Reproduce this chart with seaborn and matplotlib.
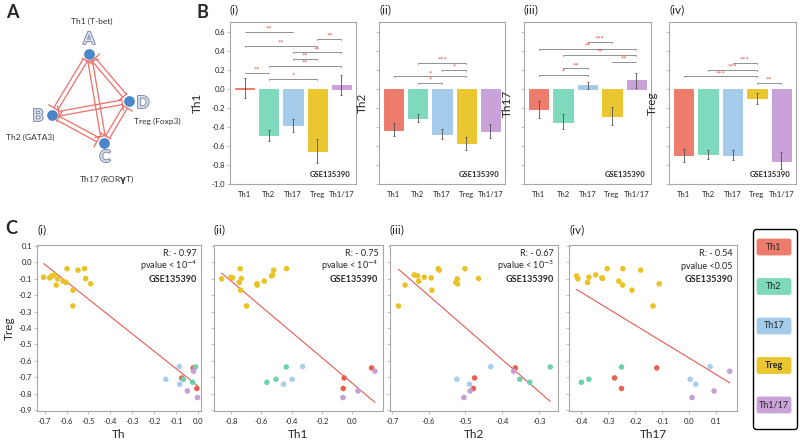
import numpy as np
import pandas as pd
import matplotlib
matplotlib.use("Agg")
import matplotlib.pyplot as plt
import seaborn as sns
from matplotlib.patches import FancyBboxPatch
import matplotlib.patheffects as pe

sns.set_theme(style="white")
plt.rcParams["font.family"] = ["Lato", "DejaVu Sans"]
plt.rcParams["axes.unicode_minus"] = False

# ---------------- data ----------------
cats = ["Th1", "Th2", "Th17", "Treg", "Th1/17"]
cat_colors = ["#EE7C6C", "#7FD9BD", "#A5CBEA", "#EAC631", "#C8A2D8"]
pt_colors = ["#E8624F", "#6ED1AE", "#A9CDEB", "#E9C325", "#C69FD6"]

b_names = ["Th1", "Th2", "Th17", "Treg"]
b_titles = ["(i)", "(ii)", "(iii)", "(iv)"]
b_th1_mean = [0.005, -0.49, -0.385, -0.65, 0.04]
b_th1_err = [0.105, 0.06, 0.065, 0.125, 0.105]
b_th2_mean = [-0.43, -0.31, -0.475, -0.575, -0.445]
b_th2_err = [0.065, 0.04, 0.053, 0.07, 0.072]
b_th17_mean = [-0.215, -0.345, 0.035, -0.29, 0.087]
b_th17_err = [0.088, 0.082, 0.037, 0.095, 0.075]
b_treg_mean = [-0.70, -0.69, -0.695, -0.10, -0.755]
b_treg_err = [0.065, 0.05, 0.055, 0.06, 0.09]
b_yticks = [-1.0, -0.8, -0.6, -0.4, -0.2, 0.0, 0.2, 0.4, 0.6]

# significance brackets: (from, to, height, label)
sig_th1 = [(0, 2, 0.60, "**"), (3, 4, 0.52, "**"), (0, 3, 0.45, "**"), (2, 4, 0.38, "**"),
           (2, 3, 0.31, "**"), (1, 4, 0.24, "**"), (0, 1, 0.17, "**"), (1, 3, 0.10, "*")]
sig_th2 = [(1, 3, 0.274, "***"), (2, 3, 0.20, "*"), (0, 3, 0.13, "*"), (1, 2, 0.06, "*")]
sig_th17 = [(2, 3, 0.49, "***"), (0, 4, 0.42, "**"), (1, 4, 0.355, "**"), (3, 4, 0.285, "**"),
            (1, 2, 0.215, "**"), (0, 2, 0.145, "*")]
sig_treg = [(2, 3, 0.27, "***"), (1, 3, 0.20, "***"), (0, 3, 0.13, "***"), (3, 4, 0.06, "**")]

# scatter data (Treg score vs. Th scores), per group
treg_y = [-0.091, -0.095, -0.083, -0.077, -0.101, -0.139, -0.115, -0.123, -0.039,
          -0.170, -0.266, -0.048, -0.039, -0.099, -0.131]
treg_x_th = [-0.705, -0.677, -0.667, -0.656, -0.641, -0.647, -0.616, -0.602, -0.598,
             -0.571, -0.571, -0.548, -0.518, -0.513, -0.490]
treg_x_th1 = [-0.800, -0.790, -0.532, -0.525, -0.862, -0.627, -0.580, -0.745, -0.739,
              -0.736, -0.697, -0.518, -0.433, -0.732, -0.629]
treg_x_th2 = [-0.612, -0.593, -0.630, -0.639, -0.522, -0.664, -0.627, -0.526, -0.574,
              -0.591, -0.682, -0.571, -0.501, -0.464, -0.521]
treg_x_th17 = [-0.372, -0.324, -0.418, -0.347, -0.413, -0.247, -0.261, -0.377, -0.304,
               -0.212, -0.134, -0.180, -0.246, -0.321, -0.111]

th1_y = [-0.704, -0.643, -0.768]
th1_x_th = [-0.074, -0.022, -0.005]
th1_x_th1 = [-0.053, 0.128, -0.059]
th1_x_th2 = [-0.475, -0.364, -0.478]
th1_x_th17 = [-0.277, -0.120, -0.251]

th2_y = [-0.712, -0.637, -0.730]
th2_x_th = [-0.067, -0.011, -0.025]
th2_x_th1 = [-0.503, -0.435, -0.563]
th2_x_th2 = [-0.352, -0.269, -0.325]
th2_x_th17 = [-0.372, -0.251, -0.400]

th17_y = [-0.712, -0.635, -0.742]
th17_x_th = [-0.147, -0.085, -0.083]
th17_x_th1 = [-0.396, -0.327, -0.453]
th17_x_th2 = [-0.523, -0.431, -0.489]
th17_x_th17 = [0.004, 0.078, 0.025]

th117_y = [-0.663, -0.783, -0.823]
th117_x_th = [-0.020, -0.048, -0.002]
th117_x_th1 = [0.150, 0.038, -0.061]
th117_x_th2 = [-0.369, -0.487, -0.504]
th117_x_th17 = [0.151, 0.093, 0.011]

c_xcols = ["Th", "Th1", "Th2", "Th17"]
c_titles = ["(i)", "(ii)", "(iii)", "(iv)"]
c_R = ["R: - 0.97", "R: - 0.75", "R: - 0.67", "R: - 0.54"]
c_p = ["pvalue < 10$^{-4}$", "pvalue < 10$^{-4}$", "pvalue < 10$^{-3}$", "pvalue <0.05"]
c_xticks = [[-0.7, -0.6, -0.5, -0.4, -0.3, -0.2, -0.1, 0.0],
            [-0.8, -0.6, -0.4, -0.2, 0.0],
            [-0.7, -0.6, -0.5, -0.4, -0.3],
            [-0.4, -0.3, -0.2, -0.1, 0.0, 0.1]]
c_xlims = [(-0.735, 0.014), (-0.912, 0.20), (-0.705, -0.248), (-0.446, 0.178)]
c_yticks = [-0.9, -0.8, -0.7, -0.6, -0.5, -0.4, -0.3, -0.2, -0.1, 0.0, 0.1]

# network diagram (panel A)
node_names = ["A", "B", "C", "D"]
node_x = [89, 52, 104, 129]
node_y = [54, 115, 143, 101]
node_labels = ["Th1 (T-bet)", "Th2 (GATA3)", "Th17 (ROR$\\mathbf{\\gamma}$T)", "Treg (Foxp3)"]
edges = [(0, 1), (0, 2), (0, 3), (1, 2), (1, 3), (2, 3)]

# ---------------- figure ----------------
W, H = 800, 441
fig = plt.figure(figsize=(W / 100, H / 100), dpi=100)


def fr(x0, y0, x1, y1):
    return [x0 / W, 1 - y1 / H, (x1 - x0) / W, (y1 - y0) / H]


GRAY = "#a6a6a6"
STAR = "#E8453C"

# ---- panel A ----
axA = fig.add_axes(fr(0, 0, 190, 200))
axA.set_xlim(0, 190)
axA.set_ylim(200, 0)
axA.axis("off")
for (i, j) in edges:
    p = np.array([node_x[i], node_y[i]], float)
    q = np.array([node_x[j], node_y[j]], float)
    u = (q - p) / np.linalg.norm(q - p)
    n = np.array([-u[1], u[0]])
    for sgn, (s, e) in [(1, (p, q)), (-1, (q, p))]:
        uu = (e - s) / np.linalg.norm(e - s)
        a0 = s + uu * 7 + sgn * n * 2.3
        a1 = e - uu * 7 + sgn * n * 2.3
        axA.annotate("", xy=a1, xytext=a0,
                     arrowprops=dict(arrowstyle="-[, widthB=0.35, lengthB=0",
                                     color="#EE6F6A", lw=0.9, shrinkA=0, shrinkB=0))
axA.scatter(node_x, node_y, s=60, color="#4A86C8", zorder=5, linewidths=0)
letter_off = [(0, -15), (-14, 1), (1, 14), (14, 2)]
label_pos = [(92, 21), (30, 137), (107, 180), (157, 121)]
for k in range(4):
    axA.text(node_x[k] + letter_off[k][0], node_y[k] + letter_off[k][1], node_names[k],
             ha="center", va="center", fontsize=12, fontweight="bold", color="#D6DCE9",
             path_effects=[pe.withStroke(linewidth=1.2, foreground="#6F7FA0")])
    axA.text(label_pos[k][0], label_pos[k][1], node_labels[k], ha="center", va="center",
             fontsize=6, color="#333333")

fig.text(6 / W, 1 - 13 / H, "A", fontsize=13, fontweight="bold", va="center")
fig.text(196 / W, 1 - 13 / H, "B", fontsize=13, fontweight="bold", va="center")
fig.text(5 / W, 1 - 229 / H, "C", fontsize=13, fontweight="bold", va="center")

# ---- panel B ----
b_boxes = [(230, 22, 356, 184), (379, 22, 505, 184), (524, 22, 651, 184), (669, 22, 796, 184)]
b_means = [b_th1_mean, b_th2_mean, b_th17_mean, b_treg_mean]
b_errs = [b_th1_err, b_th2_err, b_th17_err, b_treg_err]
b_sigs = [sig_th1, sig_th2, sig_th17, sig_treg]
pal = dict(zip(cats, cat_colors))
for k in range(4):
    ax = fig.add_axes(fr(*b_boxes[k]))
    df = pd.DataFrame({"cell": cats, "score": b_means[k]})
    sns.barplot(data=df, x="cell", y="score", hue="cell", palette=pal, width=0.8,
                errorbar=None, legend=False, ax=ax, saturation=1)
    for patch, c in zip(ax.patches, cat_colors):
        patch.set_edgecolor(c)
        patch.set_linewidth(0.7)
    ax.errorbar(range(5), b_means[k], yerr=b_errs[k], fmt="none", ecolor="#505050",
                elinewidth=0.6, capsize=1.0, capthick=0.6, zorder=4)
    for (i, j, y, lab) in b_sigs[k]:
        ax.plot([i, i, j, j], [y - 0.01, y, y, y - 0.01], color="#808080", lw=0.6)
        ax.text((i + j) / 2, y + 0.002, lab, ha="center", va="baseline", color=STAR,
                fontsize=5.5)
    ax.set_xlim(-0.6, 4.6)
    ax.set_ylim(-1.0, 0.7)
    ax.set_yticks(b_yticks)
    if k == 0:
        ax.set_yticklabels([f"{v:.1f}" for v in b_yticks])
    else:
        ax.set_yticklabels([])
    ax.set_xlabel("")
    ax.set_ylabel(b_names[k], fontsize=8.5)
    ax.yaxis.set_label_coords(-0.215 if k == 0 else -0.085, 0.5)
    ax.tick_params(axis="y", length=2, width=0.5, color=GRAY, labelsize=5.5, pad=1.5, left=True)
    ax.tick_params(axis="x", length=0, labelsize=5.5, pad=5)
    for s in ax.spines.values():
        s.set_color(GRAY)
        s.set_linewidth(0.8)
    ax.text(0.96, 0.035, "GSE135390", transform=ax.transAxes, ha="right", va="bottom",
            fontsize=5.5, fontweight="bold")
    ax.text(0.0, 1.04, b_titles[k], transform=ax.transAxes, ha="left", va="bottom", fontsize=8.5)

# ---- panel C ----
groups = ["Th1", "Th2", "Th17", "Treg", "Th1/17"]
g_y = [th1_y, th2_y, th17_y, treg_y, th117_y]
g_x = [[th1_x_th, th1_x_th1, th1_x_th2, th1_x_th17],
       [th2_x_th, th2_x_th1, th2_x_th2, th2_x_th17],
       [th17_x_th, th17_x_th1, th17_x_th2, th17_x_th17],
       [treg_x_th, treg_x_th1, treg_x_th2, treg_x_th17],
       [th117_x_th, th117_x_th1, th117_x_th2, th117_x_th17]]
rows = []
for g, ys, xs in zip(groups, g_y, g_x):
    for n in range(len(ys)):
        rows.append({"group": g, "Treg": ys[n], "Th": xs[0][n], "Th1": xs[1][n],
                     "Th2": xs[2][n], "Th17": xs[3][n]})
sdf = pd.DataFrame(rows)
ppal = dict(zip(groups, pt_colors))

c_boxes = [(37, 245, 201, 411), (214, 245, 382.5, 411), (390, 245, 558, 411), (569, 245, 737, 411)]
for k in range(4):
    ax = fig.add_axes(fr(*c_boxes[k]))
    sns.regplot(data=sdf, x=c_xcols[k], y="Treg", scatter=False, ci=None, ax=ax,
                color="#E8453C", line_kws={"lw": 0.7}, truncate=True)
    sns.scatterplot(data=sdf, x=c_xcols[k], y="Treg", hue="group", palette=ppal, s=16,
                    linewidth=0, legend=False, ax=ax, zorder=3)
    ax.set_xlim(*c_xlims[k])
    ax.set_ylim(-0.905, 0.105)
    ax.set_xticks(c_xticks[k])
    ax.set_xticklabels([f"{v:.1f}" for v in c_xticks[k]])
    ax.set_yticks(c_yticks)
    if k == 0:
        ax.set_yticklabels([f"{v:.1f}" for v in c_yticks])
        ax.set_ylabel("Treg", fontsize=8.5)
        ax.yaxis.set_label_coords(-0.135, 0.5)
    else:
        ax.set_yticklabels([])
        ax.set_ylabel("")
    ax.set_xlabel(c_xcols[k], fontsize=8.5, labelpad=3)
    ax.tick_params(axis="both", length=2, width=0.5, color=GRAY, labelsize=5.5, pad=1.5,
                   left=True, bottom=True)
    ax.tick_params(axis="x", pad=3)
    for s in ax.spines.values():
        s.set_color(GRAY)
        s.set_linewidth(0.8)
    ax.text(0.975, 0.95, c_R[k], transform=ax.transAxes, ha="right", va="center", fontsize=6.5)
    ax.text(0.975, 0.872, c_p[k], transform=ax.transAxes, ha="right", va="center", fontsize=6.5)
    ax.text(0.975, 0.795, "GSE135390", transform=ax.transAxes, ha="right", va="center",
            fontsize=6.5, fontweight="bold")
    ax.text(0.0, 1.06, c_titles[k], transform=ax.transAxes, ha="left", va="bottom", fontsize=8.5)

# ---- legend ----
axL = fig.add_axes(fr(752, 228, 799, 431))
axL.set_xlim(0, 47)
axL.set_ylim(203, 0)
axL.axis("off")
axL.add_patch(FancyBboxPatch((1.5, 1.5), 44, 200, boxstyle="round,pad=0,rounding_size=3",
                             fc="white", ec="black", lw=1.0, clip_on=False))
centers = np.linspace(19, 177, 5)
for g, c, yc in zip(groups, cat_colors, centers):
    axL.add_patch(FancyBboxPatch((5, yc - 8), 34, 16, boxstyle="round,pad=0,rounding_size=2",
                                 fc=c, ec=c, lw=0.6))
    axL.text(22, yc, g, ha="center", va="center", fontsize=6.5,
             fontweight="bold" if g == "Treg" else "normal")

fig.savefig("out.png", dpi=100)
